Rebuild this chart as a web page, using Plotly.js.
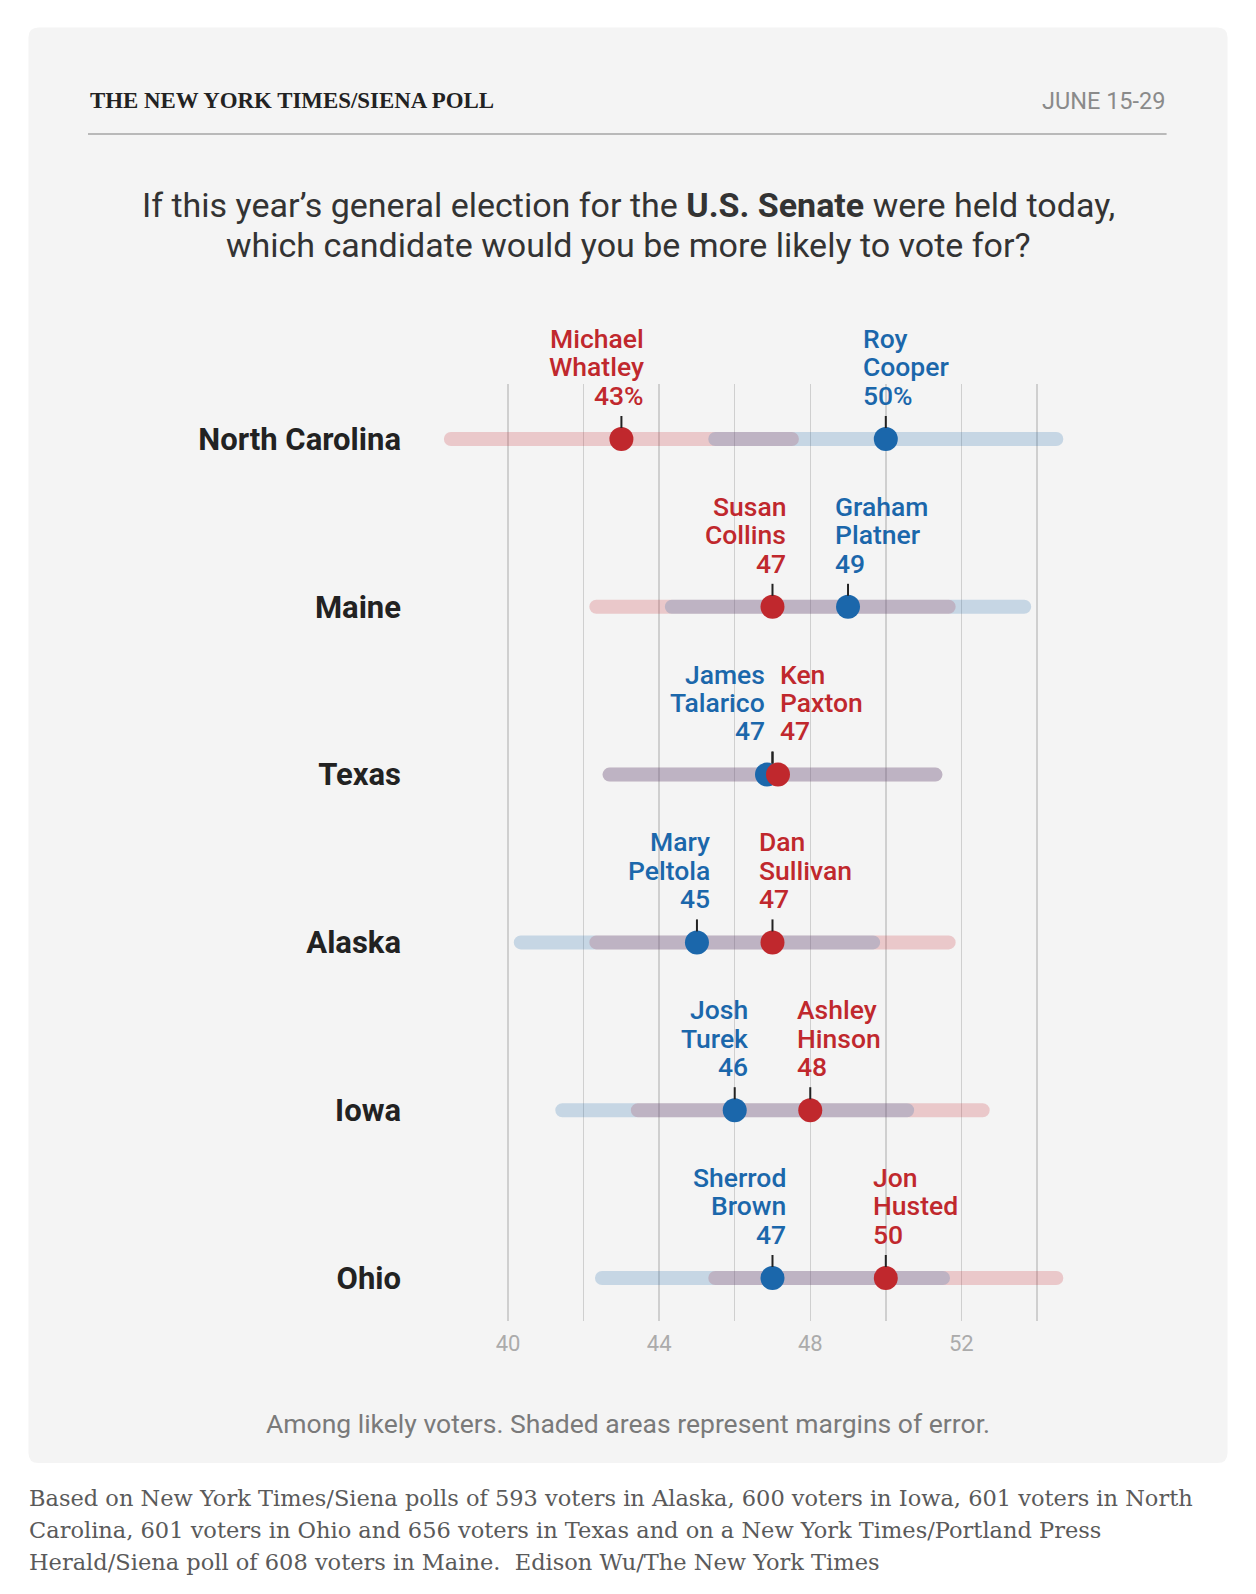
<!DOCTYPE html>
<html>
<head>
<meta charset="utf-8">
<script src="https://cdn.plot.ly/plotly-3.0.1.min.js"></script>
<style>
html,body{margin:0;padding:0;background:#ffffff;}
#chart{width:1256px;height:1594px;}
</style>
</head>
<body>
<div id="chart"></div>
<script>
// ---------------- DATA ----------------
const states = ["North Carolina", "Maine", "Texas", "Alaska", "Iowa", "Ohio"];
const demNames = ["Roy Cooper", "Graham Platner", "James Talarico", "Mary Peltola", "Josh Turek", "Sherrod Brown"];
const repNames = ["Michael Whatley", "Susan Collins", "Ken Paxton", "Dan Sullivan", "Ashley Hinson", "Jon Husted"];
const demPct = [50, 49, 47, 45, 46, 47];
const repPct = [43, 47, 47, 47, 48, 50];
const marginOfError = [4.7, 4.85, 4.5, 4.85, 4.75, 4.7];
const xTickVals = [40, 42, 44, 46, 48, 50, 52, 54];
const xTickText = ["40", "", "44", "", "48", "", "52", ""];

const headerLeft = "THE NEW YORK TIMES/SIENA POLL";
const headerRight = "JUNE 15-29";
const questionLines = ["If this year’s general election for the <b>U.S. Senate</b> were held today,",
                       "which candidate would you be more likely to vote for?"];
const noteText = "Among likely voters. Shaded areas represent margins of error.";
const sourceLines = [
  "Based on New York Times/Siena polls of 593 voters in Alaska, 600 voters in Iowa, 601 voters in North",
  "Carolina, 601 voters in Ohio and 656 voters in Texas and on a New York Times/Portland Press",
  "Herald/Siena poll of 608 voters in Maine.  Edison Wu/The New York Times"
];

// ---------------- STYLE / GEOMETRY ----------------
const W = 1256, H = 1594;
const M = {l: 412, r: 162, t: 384, b: 273};
const plotW = W - M.l - M.r, plotH = H - M.t - M.b;
const RED = "#c0282d", BLUE = "#1b67ab";
const RED_BAND = "rgba(198,40,45,0.21)", BLUE_BAND = "rgba(27,103,171,0.21)";
const SANS = "Roboto, 'Noto Sans', sans-serif";
const LABEL_SIZE = 26.5;
const pxPerUnit = 37.77;
const xr0 = 40 - (508.1 - M.l) / pxPerUnit;
const xr1 = xr0 + plotW / pxPerUnit;
const rowPx = 167.8;
const yTop = -(439 - M.t) / rowPx;
const yBot = 5 + (M.t + plotH - 1278) / rowPx;
const tieDodge = 0.145;

const px2x = px => (px - M.l) / plotW;
const py2y = py => (M.t + plotH - py) / plotH;

const idx = states.map((s, i) => i);

// measure number widths
const cv = document.createElement("canvas").getContext("2d");
cv.font = "500 " + LABEL_SIZE + "px Roboto";
const tw = s => cv.measureText(s).width;

// dot positions (dodge exact ties)
const demDot = demPct.map((d, i) => d === repPct[i] ? d - tieDodge : d);
const repDot = repPct.map((r, i) => r === demPct[i] ? r + tieDodge : r);

const barWidth = 14 / rowPx;
const traces = [
  {type: "bar", orientation: "h", y: idx, base: repPct.map((v, i) => v - marginOfError[i]),
   x: marginOfError.map(m => 2 * m), width: barWidth, marker: {color: RED_BAND, line: {width: 0}},
   hoverinfo: "skip", showlegend: false},
  {type: "bar", orientation: "h", y: idx, base: demPct.map((v, i) => v - marginOfError[i]),
   x: marginOfError.map(m => 2 * m), width: barWidth, marker: {color: BLUE_BAND, line: {width: 0}},
   hoverinfo: "skip", showlegend: false},
  {type: "scatter", mode: "markers", x: demDot, y: idx, cliponaxis: false,
   marker: {size: 24, color: BLUE, line: {width: 0}}, hoverinfo: "skip", showlegend: false},
  {type: "scatter", mode: "markers", x: repDot, y: idx, cliponaxis: false,
   marker: {size: 24, color: RED, line: {width: 0}}, hoverinfo: "skip", showlegend: false}
];

const shapes = [];
const annotations = [];

// card background
(function () {
  const x0 = px2x(28.5), x1 = px2x(1227.5), y0 = py2y(1463), y1 = py2y(27.4);
  const rx = 10 / plotW, ry = 10 / plotH;
  const p = `M ${x0 + rx},${y1} L ${x1 - rx},${y1} Q ${x1},${y1} ${x1},${y1 - ry} L ${x1},${y0 + ry} Q ${x1},${y0} ${x1 - rx},${y0} L ${x0 + rx},${y0} Q ${x0},${y0} ${x0},${y0 + ry} L ${x0},${y1 - ry} Q ${x0},${y1} ${x0 + rx},${y1} Z`;
  shapes.push({type: "path", xref: "paper", yref: "paper", path: p, fillcolor: "#f4f4f4", line: {width: 0}, layer: "below"});
})();

// header rule
shapes.push({type: "line", xref: "paper", yref: "paper", x0: px2x(88), x1: px2x(1166.6), y0: py2y(134), y1: py2y(134),
  line: {color: "#b9b9b9", width: 2}});

// header texts
annotations.push({xref: "paper", yref: "paper", x: px2x(88), y: py2y(100.6), xanchor: "left", yanchor: "middle",
  text: "<b>" + headerLeft + "</b>", showarrow: false, font: {family: "'Liberation Serif', serif", size: 22.9, color: "#222"}});
annotations.push({xref: "paper", yref: "paper", x: px2x(1166.6), y: py2y(100.6), xanchor: "right", yanchor: "middle",
  text: headerRight, showarrow: false, font: {family: SANS, size: 23.5, color: "#8a8a8a"}});

// question (one annotation per line)
const questionY = [205.2, 245];
questionLines.forEach((t, k) => annotations.push({xref: "paper", yref: "paper", x: px2x(628), y: py2y(questionY[k]),
  xanchor: "center", yanchor: "middle", text: t, showarrow: false,
  font: {family: SANS, size: 34, color: "#333"}}));

// note
annotations.push({xref: "paper", yref: "paper", x: px2x(628), y: py2y(1423), xanchor: "center", yanchor: "middle",
  text: noteText, showarrow: false, font: {family: SANS, size: 26.5, color: "#7a7a7a"}});

// source
const sourceY = [1497.6, 1529.5, 1561.7];
sourceLines.forEach((t, k) => annotations.push({xref: "paper", yref: "paper", x: px2x(27), y: py2y(sourceY[k]),
  xanchor: "left", yanchor: "middle", text: t, showarrow: false,
  font: {family: "'DejaVu Serif', serif", size: 22.5, color: "#5a5a5a"}}));

// candidate labels + tick marks
const lineShift = [100.6, 72.2, 43.7];
states.forEach((s, i) => {
  const tie = demPct[i] === repPct[i];
  const demLeft = demPct[i] <= repPct[i];
  const cands = [
    {name: demNames[i], pct: demPct[i], dot: demDot[i], color: BLUE, left: demLeft},
    {name: repNames[i], pct: repPct[i], dot: repDot[i], color: RED, left: !demLeft}
  ];
  cands.forEach(c => {
    const numTxt = c.pct + (i === 0 ? "%" : "");
    const half = tw(numTxt) / 2;
    const parts = c.name.split(" ");
    const lines = [parts[0], parts.slice(1).join(" "), numTxt];
    const xs = tie ? 0 : (c.left ? half : -half);
    lines.forEach((t, k) => annotations.push({
      xref: "x", yref: "y", x: tie ? c.dot : c.pct, y: i, yshift: lineShift[k], xshift: xs,
      xanchor: c.left ? "right" : "left", yanchor: "middle", align: c.left ? "right" : "left",
      text: t, showarrow: false, font: {family: SANS, size: LABEL_SIZE, weight: 500, color: c.color}
    }));
    shapes.push({type: "line", xref: "x", yref: "y", ysizemode: "pixel", yanchor: i,
      x0: c.pct, x1: c.pct, y0: 11, y1: 23, line: {color: "#222", width: 2}});
  });
});

const layout = {
  width: W, height: H,
  margin: M,
  paper_bgcolor: "#ffffff",
  plot_bgcolor: "rgba(0,0,0,0)",
  barmode: "overlay",
  barcornerradius: 7,
  showlegend: false,
  xaxis: {range: [xr0, xr1], tickvals: xTickVals, ticktext: xTickText, showgrid: true,
    gridcolor: "#cfcfcf", gridwidth: 1.5, zeroline: false, showline: false, ticks: "",
    ticklabelstandoff: 7,
    tickfont: {family: SANS, size: 22, color: "#ababab"}, fixedrange: true},
  yaxis: {range: [yBot, yTop], tickvals: idx, ticktext: states, showgrid: false, zeroline: false,
    showline: false, ticks: "", ticklabelstandoff: 10,
    tickfont: {family: SANS, size: 31, weight: 700, color: "#222"}, fixedrange: true},
  shapes: shapes,
  annotations: annotations
};

Plotly.newPlot("chart", traces, layout, {displayModeBar: false, staticPlot: true});
</script>
</body>
</html>
